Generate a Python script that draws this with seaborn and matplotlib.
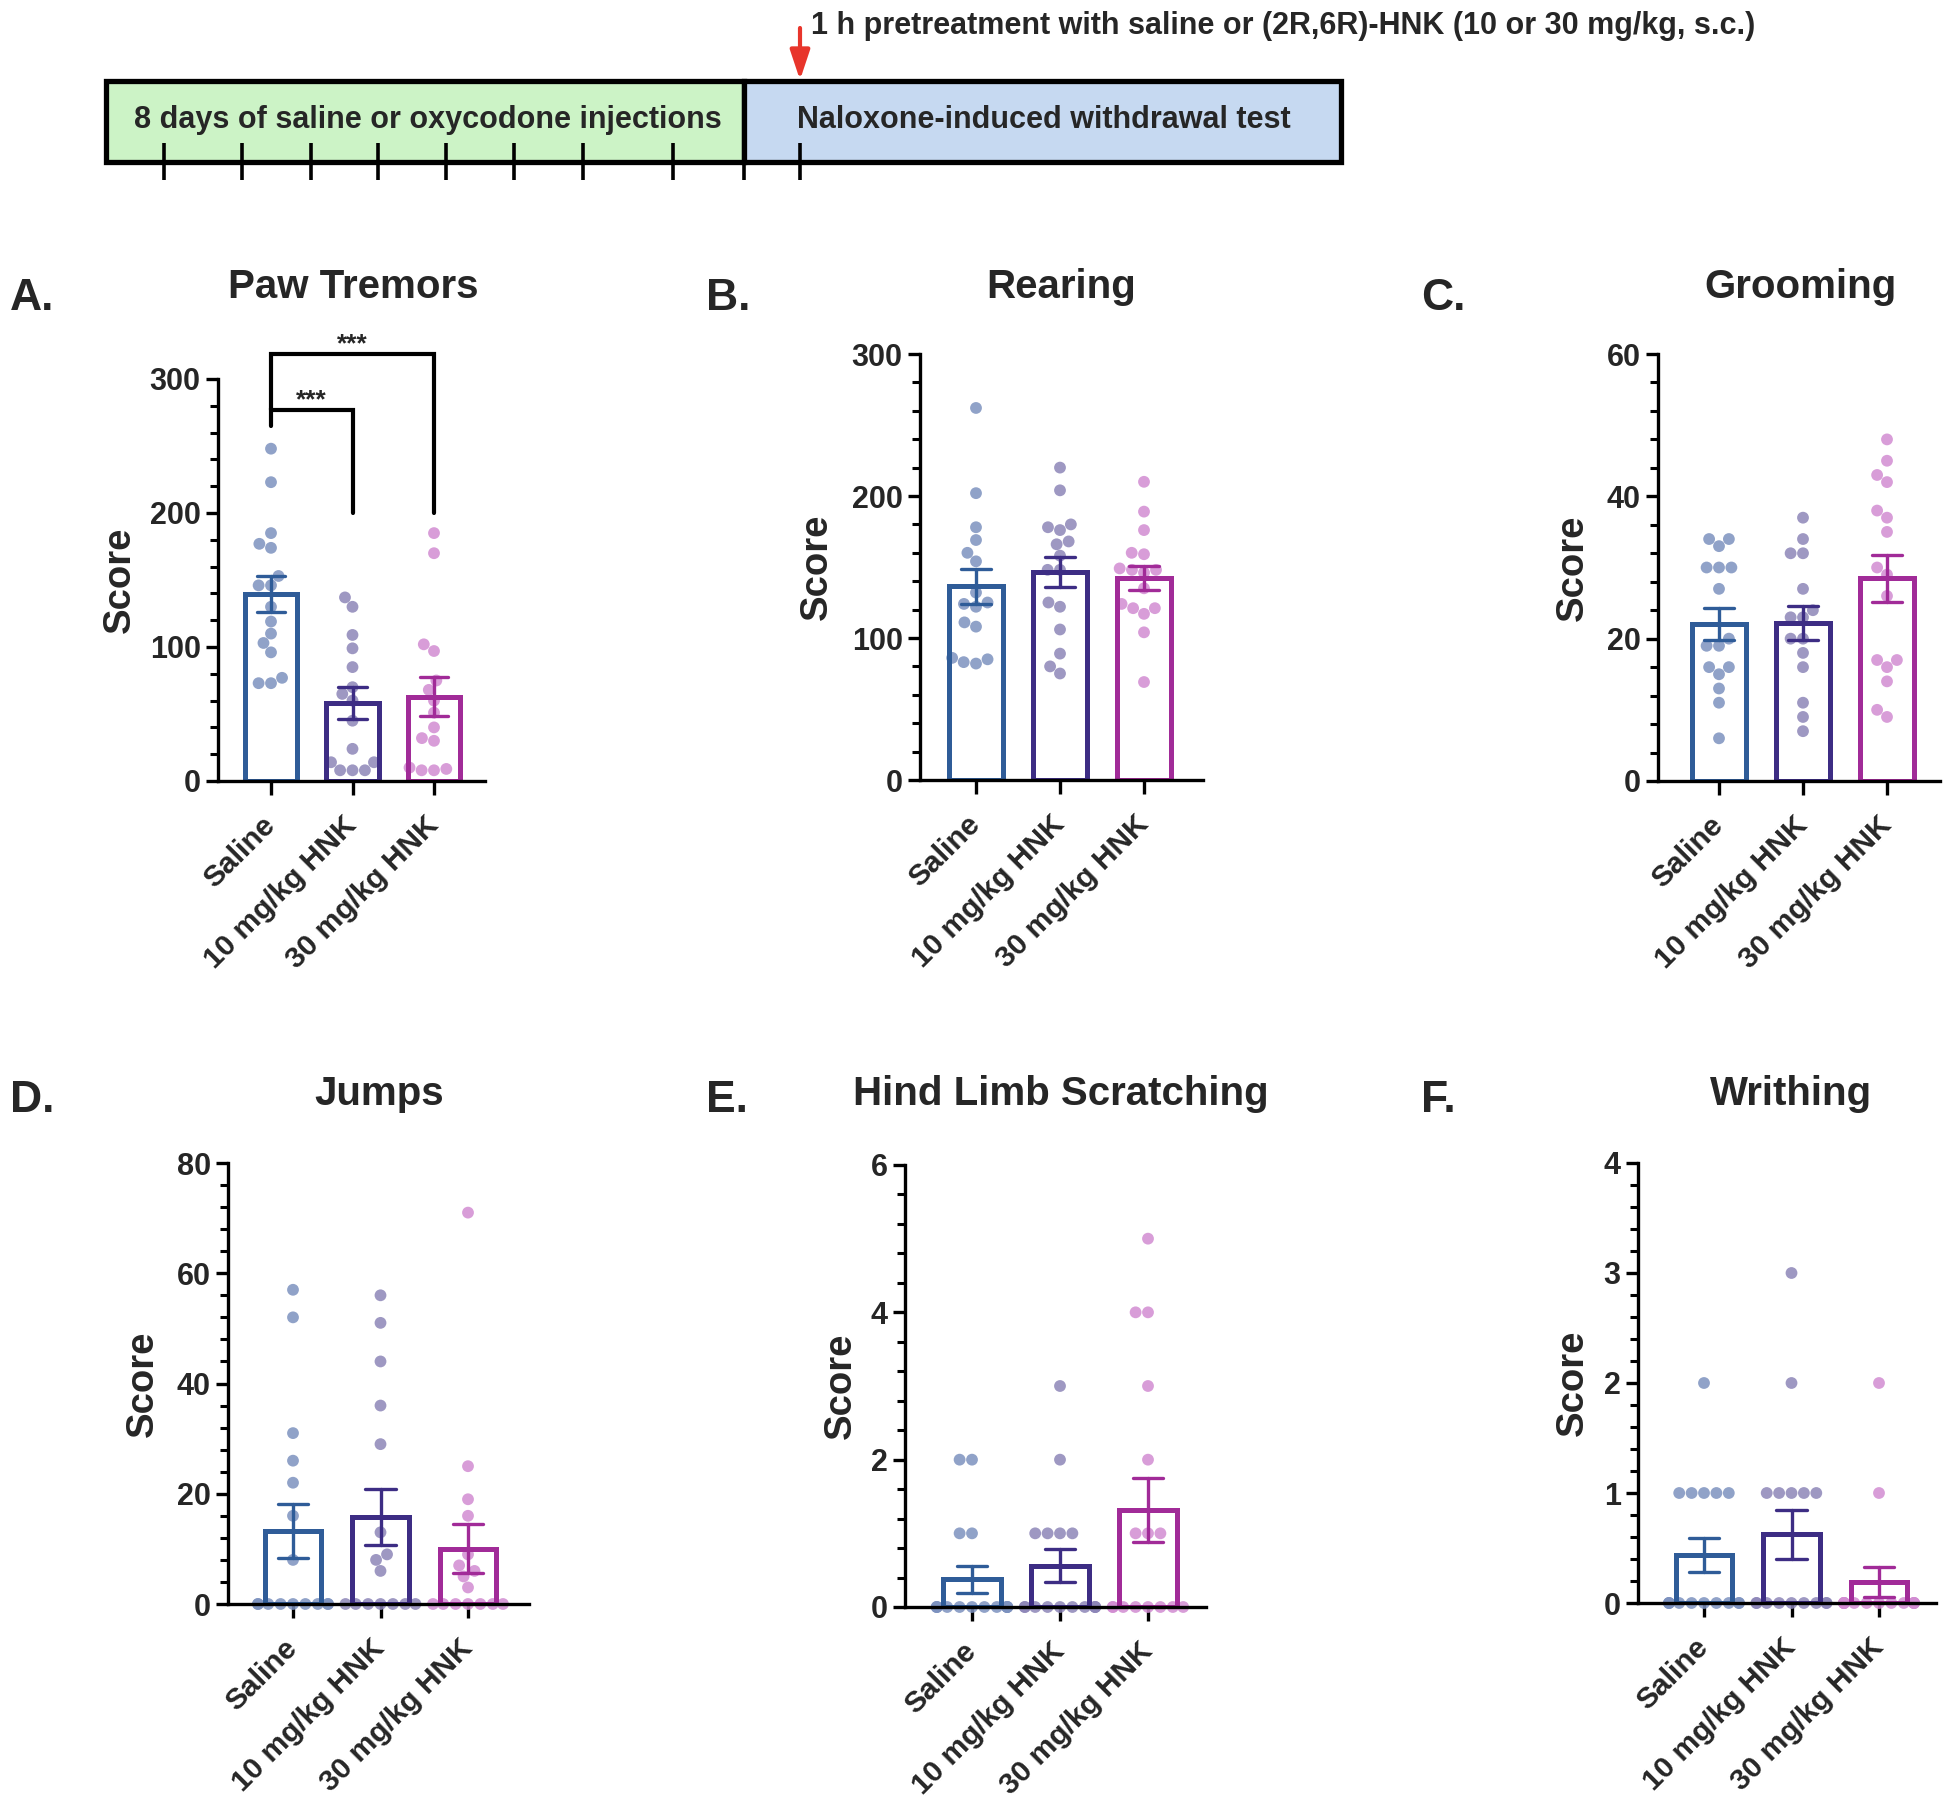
import matplotlib
matplotlib.use("Agg")
import matplotlib.pyplot as plt
from matplotlib.patches import Rectangle
from matplotlib.ticker import MultipleLocator
import pandas as pd
import seaborn as sns

# Treatment groups (same for every panel)
groups = ["Saline", "10 mg/kg HNK", "30 mg/kg HNK"]

# A. Paw tremors (individual animals)
paw_saline = [248, 223, 185, 177, 174, 153, 146, 146, 130, 119, 110, 103, 96, 77, 73, 73]
paw_10 = [137, 130, 109, 99, 85, 70, 65, 60, 45, 24, 14, 14, 8, 8, 8]
paw_30 = [185, 170, 102, 97, 75, 68, 60, 51, 40, 32, 30, 10, 9, 8, 8]

# B. Rearing
rear_saline = [262, 202, 178, 169, 160, 154, 132, 125, 124, 122, 111, 108, 86, 85, 83, 82]
rear_10 = [220, 204, 180, 178, 176, 168, 166, 158, 148, 148, 125, 122, 106, 89, 80, 75]
rear_30 = [210, 189, 176, 160, 159, 149, 148, 148, 146, 135, 124, 121, 121, 117, 104, 69]

# C. Grooming
groom_saline = [34, 33, 34, 30, 30, 30, 27, 20, 19, 19, 16, 15, 16, 13, 11, 6]
groom_10 = [37, 34, 32, 32, 27, 24, 23, 23, 20, 20, 18, 16, 11, 9, 7]
groom_30 = [48, 45, 43, 42, 38, 37, 35, 30, 29, 26, 17, 16, 17, 14, 9, 10]

# D. Jumps
jump_saline = [57, 52, 31, 26, 22, 16, 8, 0, 0, 0, 0, 0, 0, 0, 0, 0]
jump_10 = [56, 51, 44, 36, 29, 13, 9, 8, 6, 0, 0, 0, 0, 0, 0, 0]
jump_30 = [71, 25, 19, 16, 9, 7, 6, 5, 3, 0, 0, 0, 0, 0, 0, 0]

# E. Hind limb scratching
scratch_saline = [2, 2, 1, 1, 0, 0, 0, 0, 0, 0, 0, 0, 0, 0, 0, 0]
scratch_10 = [3, 2, 1, 1, 1, 1, 0, 0, 0, 0, 0, 0, 0, 0, 0, 0]
scratch_30 = [5, 4, 4, 3, 2, 1, 1, 1, 0, 0, 0, 0, 0, 0, 0, 0]

# F. Writhing
writh_saline = [2, 1, 1, 1, 1, 1, 0, 0, 0, 0, 0, 0, 0, 0, 0, 0]
writh_10 = [3, 2, 1, 1, 1, 1, 1, 0, 0, 0, 0, 0, 0, 0, 0, 0]
writh_30 = [2, 1, 0, 0, 0, 0, 0, 0, 0, 0, 0, 0, 0, 0, 0, 0]

# Style
sns.set_style("ticks")
plt.rcParams["font.family"] = ["Liberation Sans", "DejaVu Sans"]
plt.rcParams["font.weight"] = "bold"
plt.rcParams["axes.labelweight"] = "bold"

bar_colors = ["#2f5c98", "#3d2d84", "#a12b98"]
dot_colors = ["#7d92bf", "#8d86b8", "#d28cd2"]

W, H = 1950, 1819
fig = plt.figure(figsize=(W / 100, H / 100), dpi=100)


def fxy(x, y):
    # pixel position (from top-left) -> figure fraction
    return x / W, 1 - y / H


# ---- timeline schematic at the top ----
ax_t = fig.add_axes([0, 1 - 200 / H, 1, 200 / H])
ax_t.set_xlim(0, W)
ax_t.set_ylim(200, 0)
ax_t.axis("off")
ax_t.add_patch(Rectangle((106, 81), 638, 81, facecolor="#ccf3c6", edgecolor="black", lw=3.8, zorder=1))
ax_t.add_patch(Rectangle((744, 81), 597, 81, facecolor="#c6d9f1", edgecolor="black", lw=3.8, zorder=1))
for tx in [164, 242, 311, 378, 446, 514, 583, 673, 744, 800]:
    ax_t.plot([tx, tx], [143, 180], color="black", lw=2.6, solid_capstyle="butt", zorder=2)
ax_t.annotate("", xy=(800, 80), xytext=(800, 28),
              arrowprops=dict(arrowstyle="-|>,head_length=0.6,head_width=0.2", color="#e8352b",
                              lw=3, shrinkA=0, shrinkB=0, mutation_scale=30))
ax_t.text(134, 120, "8 days of saline or oxycodone injections", fontsize=22, va="center", ha="left")
ax_t.text(797, 120, "Naloxone-induced withdrawal test", fontsize=22, va="center", ha="left")
ax_t.text(811, 26, "1 h pretreatment with saline or (2R,6R)-HNK (10 or 30 mg/kg, s.c.)",
          fontsize=22, va="center", ha="left")

# ---- panels ----
panels = [
    dict(letter="A.", title="Paw Tremors", data=[paw_saline, paw_10, paw_30], ymax=300, major=100, minor=20,
         box=(218, 485, 379, 781), ticks=(271, 434), ylab_x=120, title_xy=(353, 287), letter_xy=(10, 298)),
    dict(letter="B.", title="Rearing", data=[rear_saline, rear_10, rear_30], ymax=300, major=100, minor=20,
         box=(920, 1203, 354, 780), ticks=(976, 1144), ylab_x=817, title_xy=(1061, 287), letter_xy=(706, 298)),
    dict(letter="C.", title="Grooming", data=[groom_saline, groom_10, groom_30], ymax=60, major=20, minor=4,
         box=(1658, 1940, 354, 781), ticks=(1719, 1887), ylab_x=1573, title_xy=(1800, 287), letter_xy=(1421, 298)),
    dict(letter="D.", title="Jumps", data=[jump_saline, jump_10, jump_30], ymax=80, major=20, minor=4,
         box=(228, 529, 1163, 1604), ticks=(293, 468), ylab_x=143, title_xy=(379, 1094), letter_xy=(10, 1100)),
    dict(letter="E.", title="Hind Limb Scratching", data=[scratch_saline, scratch_10, scratch_30], ymax=6,
         major=2, minor=0.4, box=(905, 1206, 1165, 1607), ticks=(972, 1148), ylab_x=841,
         title_xy=(1061, 1094), letter_xy=(706, 1100)),
    dict(letter="F.", title="Writhing", data=[writh_saline, writh_10, writh_30], ymax=4, major=1, minor=0.2,
         box=(1638, 1936, 1163, 1603), ticks=(1704, 1879), ylab_x=1573, title_xy=(1791, 1094),
         letter_xy=(1421, 1100)),
]

for p in panels:
    left, right, top, bottom = p["box"]
    ax = fig.add_axes([left / W, 1 - bottom / H, (right - left) / W, (bottom - top) / H])
    df = pd.DataFrame({
        "group": [g for g, vals in zip(groups, p["data"]) for _ in vals],
        "score": [v for vals in p["data"] for v in vals],
    })
    sns.barplot(data=df, x="group", y="score", hue="group", order=groups, hue_order=groups,
                palette=bar_colors, saturation=1, fill=False, width=0.65, errorbar="se",
                capsize=0.35, linewidth=3.6, err_kws={"linewidth": 2.4}, legend=False, ax=ax)
    sns.swarmplot(data=df, x="group", y="score", hue="group", order=groups, hue_order=groups,
                  palette=dot_colors, size=8.5, alpha=0.85, legend=False, warn_thresh=1,
                  zorder=0.8, ax=ax)
    for coll in ax.collections:
        coll.set_clip_on(False)

    t0, t2 = p["ticks"]
    step = (t2 - t0) / 2
    ax.set_xlim((left - t0) / step, (right - t0) / step)
    ax.set_ylim(0, p["ymax"])
    ax.yaxis.set_major_locator(MultipleLocator(p["major"]))
    ax.yaxis.set_minor_locator(MultipleLocator(p["minor"]))
    sns.despine(ax=ax)
    for s in ["left", "bottom"]:
        ax.spines[s].set_linewidth(2.4)
        ax.spines[s].set_color("black")
    ax.tick_params(axis="y", which="major", length=9, width=2.4, labelsize=22, color="black")
    ax.tick_params(axis="y", which="minor", length=5.5, width=2.2, color="black")
    ax.tick_params(axis="x", which="major", length=10, width=2.4, pad=19, color="black")
    ax.set_xticks([0, 1, 2])
    ax.set_xticklabels(groups, rotation=45, ha="right", va="center", rotation_mode="anchor",
                       fontsize=21.5)
    ax.set_xlabel("")
    ax.set_ylabel("Score", fontsize=27.5)
    ax.yaxis.set_label_coords((p["ylab_x"] - left) / (right - left), 0.5)
    ax.yaxis.label.set_va("center")

    fig.text(*fxy(*p["title_xy"]), p["title"], ha="center", va="center", fontsize=29)
    fig.text(*fxy(*p["letter_xy"]), p["letter"], ha="left", va="center", fontsize=32)

    if p["letter"] == "A.":
        # significance brackets vs saline
        ax.plot([0, 0, 1, 1], [265, 277, 277, 200], color="black", lw=3, clip_on=False,
                solid_joinstyle="miter")
        ax.plot([0, 0, 2, 2], [277, 319, 319, 200], color="black", lw=3, clip_on=False,
                solid_joinstyle="miter")
        ax.text(0.5, 279, "***", ha="center", va="baseline", fontsize=19, clip_on=False)
        ax.text(1.0, 321, "***", ha="center", va="baseline", fontsize=19, clip_on=False)

fig.savefig("out.png", dpi=100, facecolor="white")
